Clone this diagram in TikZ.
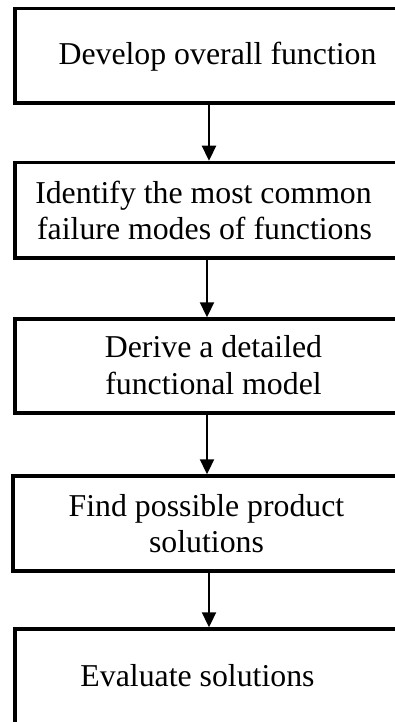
\documentclass[tikz,border=0pt]{standalone}
\usepackage{fontspec}
\setmainfont{Liberation Serif}
\usetikzlibrary{arrows.meta}
\tikzset{
  stepbox/.style={draw=black, line width=3.5bp, rectangle, inner sep=0pt, minimum width=390bp},
  steptext/.style={anchor=base, inner sep=0pt, font=\fontsize{31.8bp}{37bp}\selectfont},
  flowarrow/.style={line width=2.3bp, -{Triangle[width=14bp,length=15bp]}}
}
\begin{document}
\begin{tikzpicture}[x=1bp,y=-1bp]
\useasboundingbox (0,0) rectangle (394,722);
\node[stepbox, minimum height=94.5bp] (b1) at (210,55.75) {};
\node[stepbox, minimum height=95.5bp] (b2) at (210,210.25) {};
\node[stepbox, minimum height=94bp] (b3) at (210,366) {};
\node[stepbox, minimum height=95bp, minimum width=392bp] (b4) at (209,523.5) {};
\node[stepbox, minimum height=131bp] (b5) at (210,694.5) {};

\node[steptext] (t1) at (217.5,65) {Develop overall function};
\node[steptext] (t2a) at (203.5,203) {Identify the most common};
\node[steptext] (t2b) at (204.5,239) {failure modes of functions};
\node[steptext] (t3a) at (213.5,357) {Derive a detailed};
\node[steptext] (t3b) at (213.5,394) {functional model};
\node[steptext] (t4a) at (206.5,516) {Find possible product};
\node[steptext] (t4b) at (206.5,552) {solutions};
\node[steptext] (t5) at (197.5,686) {Evaluate solutions};

\draw[flowarrow] ([xshift=-1bp]b1.south) -- ([xshift=-1bp]b1.south |- b2.north);
\draw[flowarrow] ([xshift=-3bp]b2.south) -- ([xshift=-3bp]b2.south |- b3.north);
\draw[flowarrow] ([xshift=-3bp]b3.south) -- ([xshift=-3bp]b3.south |- b4.north);
\draw[flowarrow] (b4.south) -- (b4.south |- b5.north);
\end{tikzpicture}
\end{document}
